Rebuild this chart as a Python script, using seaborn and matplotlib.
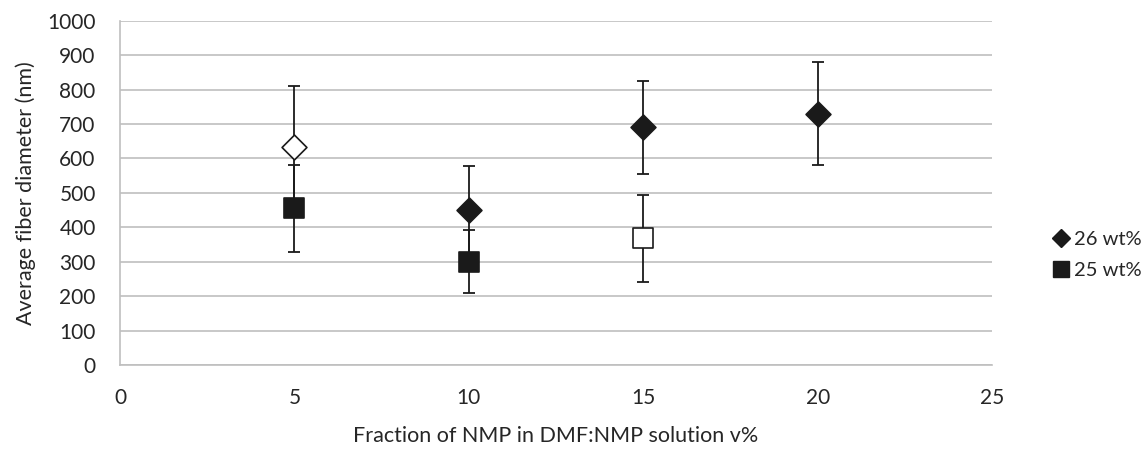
import pandas as pd
import seaborn as sns
import matplotlib.pyplot as plt
from matplotlib.lines import Line2D

# Данные
x_26 = [5, 10, 15, 20]
y_26 = [632, 449, 690, 730]
err_26 = [179, 128, 136, 150]
filled_26 = [False, True, True, True]

x_25 = [5, 10, 15]
y_25 = [455, 300, 368]
err_25 = [127, 91, 126]
filled_25 = [True, True, False]

x_ticks = [0, 5, 10, 15, 20, 25]
y_ticks = list(range(0, 1001, 100))

df = pd.concat([
    pd.DataFrame({'x': x_26, 'y': y_26, 'err': err_26, 'filled': filled_26, 'series': '26 wt%'}),
    pd.DataFrame({'x': x_25, 'y': y_25, 'err': err_25, 'filled': filled_25, 'series': '25 wt%'}),
], ignore_index=True)

sns.set_style('white')
plt.rcParams['font.family'] = ['Lato', 'DejaVu Sans']

fig = plt.figure(figsize=(11.46, 4.5), dpi=100)
ax = fig.add_axes([0.1047, 0.189, 0.761, 0.765])

grid_c = '#bfbfbf'
dark = '#1a1a1a'
txt = '#262626'

# Планки погрешностей
ax.errorbar(df['x'], df['y'], yerr=df['err'], fmt='none', ecolor=dark,
            elinewidth=1.3, capsize=4.5, capthick=1.3, zorder=2)

markers = {'26 wt%': 'D', '25 wt%': 's'}
sizes = {'26 wt%': 160, '25 wt%': 190}
for (series, filled), sub in df.groupby(['series', 'filled']):
    sns.scatterplot(data=sub, x='x', y='y', ax=ax, marker=markers[series],
                    s=sizes[series], color=dark if filled else 'white',
                    edgecolor=dark, linewidth=1.2, zorder=3, legend=False)

ax.set_xlim(0, 25)
ax.set_ylim(0, 1000)
ax.set_xticks(x_ticks)
ax.set_yticks(y_ticks)
ax.yaxis.grid(True, color=grid_c, linewidth=1.2)
ax.set_axisbelow(True)
for side in ['top', 'right']:
    ax.spines[side].set_visible(False)
for side in ['left', 'bottom']:
    ax.spines[side].set_color(grid_c)
    ax.spines[side].set_linewidth(1.2)
ax.tick_params(axis='both', which='both', direction='out', length=5.5, width=1.2,
               color=grid_c, labelsize=15, labelcolor=txt)
ax.tick_params(axis='y', pad=12)
ax.tick_params(axis='x', pad=11)

ax.set_xlabel('Fraction of NMP in DMF:NMP solution v%', fontsize=15.5, color=txt, labelpad=13)
ax.set_ylabel('Average fiber diameter (nm)', fontsize=15.5, color=txt, labelpad=8)

handles = [
    Line2D([], [], linestyle='none', marker='D', markersize=9, color=dark),
    Line2D([], [], linestyle='none', marker='s', markersize=12, color=dark),
]
fig.legend(handles, ['26 wt%', '25 wt%'], loc='center left', bbox_to_anchor=(0.903, 0.434),
           frameon=False, fontsize=14.5, handlelength=0.8, handletextpad=0.25,
           labelspacing=0.7, labelcolor=txt)

fig.savefig('out.png', dpi=100)
